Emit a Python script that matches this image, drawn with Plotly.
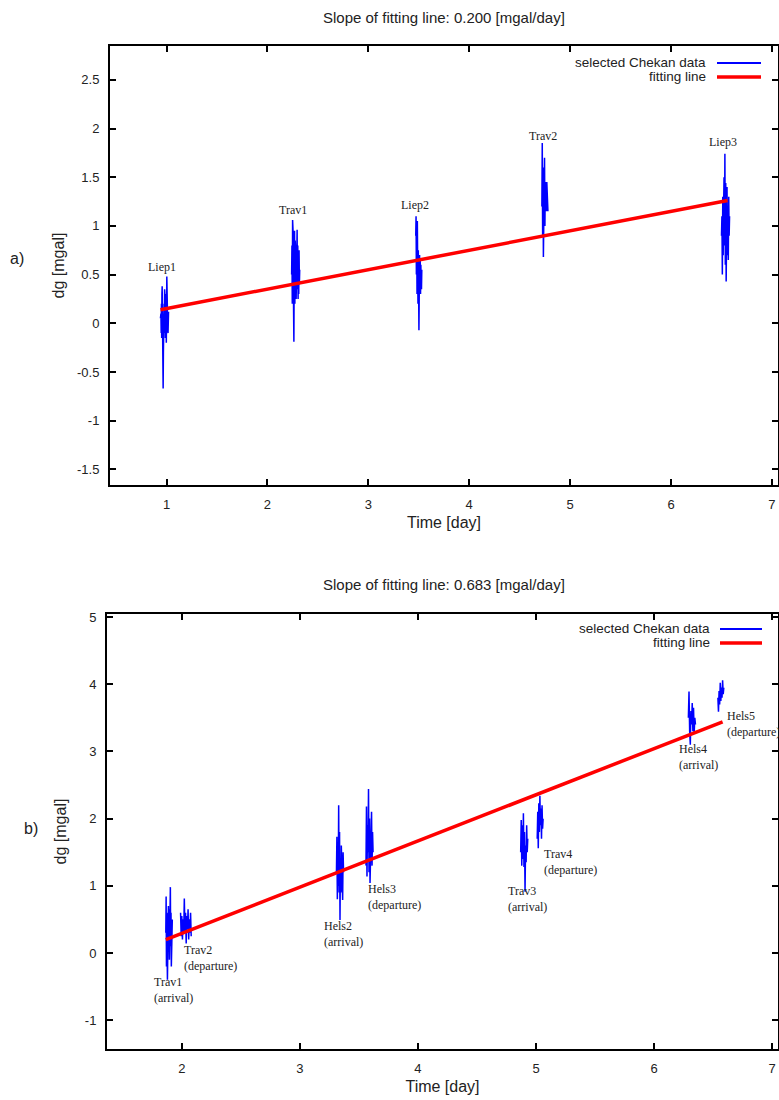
import numpy as np
import plotly.graph_objects as go

# ---------------- data: panel a ----------------
a_names = ["Liep1", "Trav1", "Liep2", "Trav2", "Liep3"]
a_t_start = [0.94, 2.24, 3.47, 4.72, 6.50]
a_t_end = [1.02, 2.32, 3.53, 4.78, 6.58]
a_liep1 = [0.05, -0.05, 0.1, -0.1, 0.2, -0.15, 0.3, 0.38, -0.2, 0.1, -0.38, -0.67, -0.3, 0.0,
           -0.25, 0.2, -0.1, 0.35, 0.0, 0.25, -0.15, 0.3, 0.05, 0.15, -0.2, 0.1, 0.48, 0.0,
           0.2, -0.05, 0.1, -0.1, 0.05, 0.12]
a_trav1 = [0.5, 0.8, 0.2, 1.06, 0.3, 0.9, 0.15, -0.19, 0.6, 0.95, 0.2, 0.85, 0.3, 0.7, 0.25,
           0.9, 0.4, 0.96, 0.35, 0.8, 0.25, 0.6, 0.3, 0.75, 0.4, 0.55]
a_liep2 = [0.9, 1.10, 0.5, 0.95, 0.3, 1.05, 0.6, 0.2, 0.75, 0.35, -0.07, 0.4, 0.7, 0.5, 0.65,
           0.3, 0.6, 0.45, 0.35, 0.55]
a_trav2 = [1.2, 1.85, 0.9, 1.6, 0.68, 1.5, 0.85, 1.7, 1.0, 1.45, 1.25, 1.4, 1.15, 1.45, 1.2,
           1.35, 1.15]
a_liep3 = [0.9, 1.1, 0.5, 1.3, 0.7, 1.2, 1.5, 0.8, 1.74, 0.6, 1.44, 0.43, 1.0, 1.4, 0.7, 1.2,
           0.65, 1.3, 0.9, 1.1]
a_series = [a_liep1, a_trav1, a_liep2, a_trav2, a_liep3]
a_label_x = [0.96, 2.25, 3.46, 4.73, 6.51]
a_label_y = [0.58, 1.16, 1.21, 1.92, 1.86]
a_fit_x = [0.94, 6.56]
a_fit_y = [0.14, 1.26]
a_title = "Slope of fitting line: 0.200 [mgal/day]"
a_yticks = [-1.5, -1, -0.5, 0, 0.5, 1, 1.5, 2, 2.5]
a_yticktext = ["-1.5", "-1", "-0.5", "0", "0.5", "1", "1.5", "2", "2.5"]
a_xticks = [1, 2, 3, 4, 5, 6, 7]

# ---------------- data: panel b ----------------
b_names = ["Trav1<br>(arrival)", "Trav2<br>(departure)", "Hels2<br>(arrival)",
           "Hels3<br>(departure)", "Trav3<br>(arrival)", "Trav4<br>(departure)",
           "Hels4<br>(arrival)", "Hels5<br>(departure)"]
b_t_start = [1.865, 1.99, 3.31, 3.56, 4.87, 5.01, 6.29, 6.54]
b_t_end = [1.92, 2.08, 3.37, 3.62, 4.93, 5.06, 6.35, 6.59]
b_trav1 = [0.3, 0.84, -0.2, 0.6, 0.0, -0.4, 0.5, 0.1, 0.7, 0.2, 0.65, -0.1, 0.55, 0.3, 0.98,
           0.1, 0.6, -0.2, 0.4, 0.2, 0.5]
b_trav2 = [0.6, 0.25, 0.55, 0.2, 0.5, 0.3, 0.81, 0.3, 0.6, 0.14, 0.55, 0.35, 0.65, 0.2, 0.5,
           0.3, 0.6, 0.25]
b_hels2 = [1.2, 1.73, 0.8, 1.5, 1.0, 2.20, 0.9, 1.8, 0.49, 1.4, 0.9, 1.6, 1.1, 1.3, 0.79, 1.5,
           1.2]
b_hels3 = [1.3, 2.18, 1.14, 1.9, 1.5, 2.44, 1.2, 2.0, 1.04, 1.7, 1.4, 2.1, 1.3, 1.8, 1.5]
b_trav3 = [1.5, 1.98, 1.3, 1.9, 1.4, 2.08, 1.28, 1.8, 0.91, 1.6, 1.35, 1.9, 1.5, 1.7]
b_trav4 = [1.7, 2.1, 1.56, 2.23, 1.8, 2.34, 1.9, 2.15, 1.7, 2.2, 1.85, 2.0]
b_hels4 = [3.5, 3.89, 3.3, 3.10, 3.6, 3.4, 3.72, 3.3, 3.65, 3.27, 3.5, 3.4]
b_hels5 = [3.8, 3.59, 3.9, 3.7, 4.02, 3.75, 3.95, 3.8, 4.06, 3.85, 3.95]
b_series = [b_trav1, b_trav2, b_hels2, b_hels3, b_trav3, b_trav4, b_hels4, b_hels5]
b_label_x = [1.75, 2.0, 3.19, 3.56, 4.746, 5.05, 6.19, 6.60]
b_label_y = [-0.55, -0.08, 0.29, 0.84, 0.80, 1.35, 2.91, 3.41]
b_fit_x = [1.865, 6.58]
b_fit_y = [0.20, 3.44]
b_title = "Slope of fitting line: 0.683 [mgal/day]"
b_yticks = [-1, 0, 1, 2, 3, 4, 5]
b_yticktext = ["-1", "0", "1", "2", "3", "4", "5"]
b_xticks = [2, 3, 4, 5, 6, 7]

legend_labels = ["selected Chekan data", "fitting line"]

BLUE = "#0000ff"
RED = "#ff0000"
SANS = "Liberation Sans, Arial, sans-serif"
SERIF = "Liberation Serif, Times New Roman, serif"
TXT = "#222222"

fig = go.Figure()


def add_panel(xa, ya, starts, ends, series, fit_x, fit_y):
    for t0, t1, vals in zip(starts, ends, series):
        fig.add_trace(go.Scatter(
            x=np.linspace(t0, t1, len(vals)), y=vals, mode="lines",
            line=dict(color=BLUE, width=1.5), xaxis=xa, yaxis=ya,
            showlegend=False, name=legend_labels[0], hoverinfo="skip"))
    fig.add_trace(go.Scatter(
        x=fit_x, y=fit_y, mode="lines", line=dict(color=RED, width=3.5),
        xaxis=xa, yaxis=ya, showlegend=False, name=legend_labels[1]))


add_panel("x", "y", a_t_start, a_t_end, a_series, a_fit_x, a_fit_y)
add_panel("x2", "y2", b_t_start, b_t_end, b_series, b_fit_x, b_fit_y)

axis_common = dict(
    showline=True, linecolor="black", linewidth=2, mirror="allticks",
    ticks="inside", ticklen=6, tickwidth=2, tickcolor="black",
    showgrid=False, zeroline=False, ticklabelstandoff=6,
    tickfont=dict(family=SANS, size=13, color=TXT),
    title_font=dict(family=SANS, size=16, color=TXT),
)

fig.update_layout(
    width=779, height=1100,
    margin=dict(l=0, r=0, t=0, b=0, autoexpand=False),
    paper_bgcolor="white", plot_bgcolor="white",
    showlegend=False,
    xaxis=dict(domain=[110 / 779, 778 / 779], range=[0.44, 7.06], anchor="y",
               tickvals=a_xticks, title=dict(text="Time [day]", standoff=6), **axis_common),
    yaxis=dict(domain=[1 - 485 / 1100, 1 - 46 / 1100], range=[-1.66, 2.847], anchor="x",
               tickvals=a_yticks, ticktext=a_yticktext,
               title=dict(text="dg [mgal]", standoff=8), **axis_common),
    xaxis2=dict(domain=[107 / 779, 778 / 779], range=[1.367, 7.049], anchor="y2",
                tickvals=b_xticks, title=dict(text="Time [day]", standoff=6), **axis_common),
    yaxis2=dict(domain=[1 - 1049 / 1100, 1 - 614 / 1100], range=[-1.429, 5.045], anchor="x2",
                tickvals=b_yticks, ticktext=b_yticktext,
                title=dict(text="dg [mgal]", standoff=14), **axis_common),
)

ann = []
# station labels
for name, lx, ly in zip(a_names, a_label_x, a_label_y):
    ann.append(dict(x=lx, y=ly, xref="x", yref="y", text=name, showarrow=False,
                    xanchor="center", yanchor="middle",
                    font=dict(family=SERIF, size=12, color=TXT)))
for name, lx, ly in zip(b_names, b_label_x, b_label_y):
    ann.append(dict(x=lx, y=ly, xref="x2", yref="y2", text=name, showarrow=False,
                    xanchor="left", yanchor="middle", align="left",
                    font=dict(family=SERIF, size=12, color=TXT)))

# titles and panel letters
ann.append(dict(x=444 / 779, y=1 - 18 / 1100, xref="paper", yref="paper", text=a_title,
                showarrow=False, xanchor="center", yanchor="middle",
                font=dict(family=SANS, size=15, color=TXT)))
ann.append(dict(x=444 / 779, y=1 - 584 / 1100, xref="paper", yref="paper", text=b_title,
                showarrow=False, xanchor="center", yanchor="middle",
                font=dict(family=SANS, size=15, color=TXT)))
ann.append(dict(x=8 / 779, y=1 - 258 / 1100, xref="paper", yref="paper", text="a)",
                showarrow=False, xanchor="left", yanchor="middle",
                font=dict(family=SANS, size=16, color=TXT)))
ann.append(dict(x=22 / 779, y=1 - 828 / 1100, xref="paper", yref="paper", text="b)",
                showarrow=False, xanchor="left", yanchor="middle",
                font=dict(family=SANS, size=16, color=TXT)))

# legends (text left of the line sample, as in the original)
shapes = []
for (tx, y1, y2, lx0, lx1) in [(708, 62, 76, 717, 761), (712, 628, 642, 720, 762)]:
    ann.append(dict(x=tx / 779, y=1 - y1 / 1100, xref="paper", yref="paper",
                    text=legend_labels[0], showarrow=False, xanchor="right", yanchor="middle",
                    font=dict(family=SANS, size=13.5, color=TXT)))
    ann.append(dict(x=tx / 779, y=1 - y2 / 1100, xref="paper", yref="paper",
                    text=legend_labels[1], showarrow=False, xanchor="right", yanchor="middle",
                    font=dict(family=SANS, size=13.5, color=TXT)))
    shapes.append(dict(type="line", xref="paper", yref="paper",
                       x0=lx0 / 779, x1=lx1 / 779, y0=1 - (y1 + 1) / 1100, y1=1 - (y1 + 1) / 1100,
                       line=dict(color=BLUE, width=2)))
    shapes.append(dict(type="line", xref="paper", yref="paper",
                       x0=lx0 / 779, x1=lx1 / 779, y0=1 - (y2 + 1) / 1100, y1=1 - (y2 + 1) / 1100,
                       line=dict(color=RED, width=3.5)))

fig.update_layout(annotations=ann, shapes=shapes)
fig.write_html("out.html", config={"displayModeBar": False},
               post_script="document.body.style.margin='0';document.body.style.padding='0';")
